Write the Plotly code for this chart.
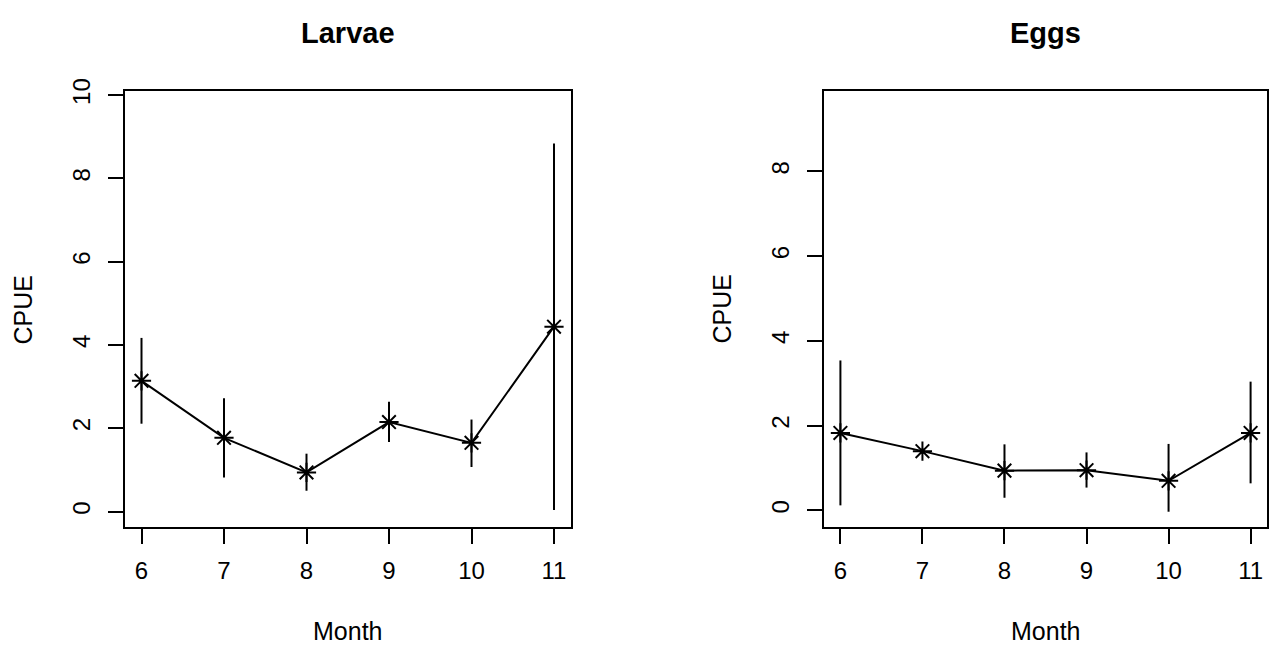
import plotly.graph_objects as go

months = [6, 7, 8, 9, 10, 11]
month_ticks = ["6", "7", "8", "9", "10", "11"]

larvae_cpue = [3.14, 1.77, 0.94, 2.15, 1.65, 4.44]
larvae_upper = [4.17, 2.72, 1.39, 2.64, 2.21, 8.84]
larvae_lower = [2.11, 0.82, 0.50, 1.67, 1.07, 0.04]

eggs_cpue = [1.83, 1.40, 0.94, 0.95, 0.70, 1.83]
eggs_upper = [3.54, 1.46, 1.56, 1.37, 1.57, 3.04]
eggs_lower = [0.12, 1.34, 0.30, 0.54, -0.03, 0.64]

panel_titles = ["Larvae", "Eggs"]
x_title = "Month"
y_title = "CPUE"

W, H = 1269, 648
FONT = "Liberation Sans, Arial, Helvetica, sans-serif"

fig = go.Figure()


def add_series(vals, up, lo, xa, ya):
    fig.add_trace(go.Scatter(
        x=months, y=vals, xaxis=xa, yaxis=ya, mode="lines+markers",
        line=dict(color="black", width=2),
        marker=dict(symbol="asterisk-open", size=16, color="black",
                    line=dict(color="black", width=2)),
        error_y=dict(type="data", symmetric=False,
                     array=[u - v for u, v in zip(up, vals)],
                     arrayminus=[v - l for v, l in zip(vals, lo)],
                     color="black", thickness=2, width=0),
        showlegend=False, hoverinfo="x+y",
    ))


add_series(larvae_cpue, larvae_upper, larvae_lower, "x", "y")
add_series(eggs_cpue, eggs_upper, eggs_lower, "x2", "y2")

box_top, box_bot = 80, 524.5
left_box = (125, 570.5)
right_box = (824, 1267)
ydom = [1 - box_bot / H, 1 - box_top / H]

axis_common = dict(showline=True, linewidth=2, linecolor="black", mirror=True,
                   ticks="outside", ticklen=15, tickwidth=2, tickcolor="black",
                   showgrid=False, zeroline=False,
                   tickfont=dict(family=FONT, size=24, color="black"))

fig.update_layout(
    width=W, height=H,
    margin=dict(l=0, r=0, t=0, b=0),
    paper_bgcolor="white", plot_bgcolor="white",
    font=dict(family=FONT, color="black"),
    xaxis=dict(domain=[left_box[0] / W, left_box[1] / W], range=[5.8, 11.2],
               tickvals=months, ticktext=month_ticks, anchor="y",
               ticklabelstandoff=6, **axis_common),
    yaxis=dict(domain=ydom, range=[-0.37, 10.09], tickvals=[0, 2, 4, 6, 8, 10],
               tickangle=-90, anchor="x", ticklabelstandoff=8, **axis_common),
    xaxis2=dict(domain=[right_box[0] / W, right_box[1] / W], range=[5.8, 11.2],
                tickvals=months, ticktext=month_ticks, anchor="y2",
                ticklabelstandoff=6, **axis_common),
    yaxis2=dict(domain=ydom, range=[-0.39, 9.89], tickvals=[0, 2, 4, 6, 8],
                tickangle=-90, anchor="x2", ticklabelstandoff=8, **axis_common),
)

annotations = []
for (bx0, bx1), title in zip([left_box, right_box], panel_titles):
    cx = (bx0 + bx1) / 2 / W
    annotations.append(dict(x=cx, y=1 - 20 / H, xref="paper", yref="paper",
                            text="<b>" + title + "</b>", showarrow=False,
                            xanchor="center", yanchor="middle",
                            font=dict(family=FONT, size=29, color="black")))
    annotations.append(dict(x=cx, y=1 - 631 / H, xref="paper", yref="paper",
                            text=x_title, showarrow=False,
                            xanchor="center", yanchor="middle",
                            font=dict(family=FONT, size=25, color="black")))
    annotations.append(dict(x=(bx0 - 102) / W, y=1 - 302.5 / H, xref="paper", yref="paper",
                            text=y_title, showarrow=False, textangle=-90,
                            xanchor="center", yanchor="middle",
                            font=dict(family=FONT, size=25, color="black")))
fig.update_layout(annotations=annotations)

fig.write_html("out.html", config={"displayModeBar": False},
               post_script="document.body.style.margin='0';document.body.style.overflow='hidden';")
